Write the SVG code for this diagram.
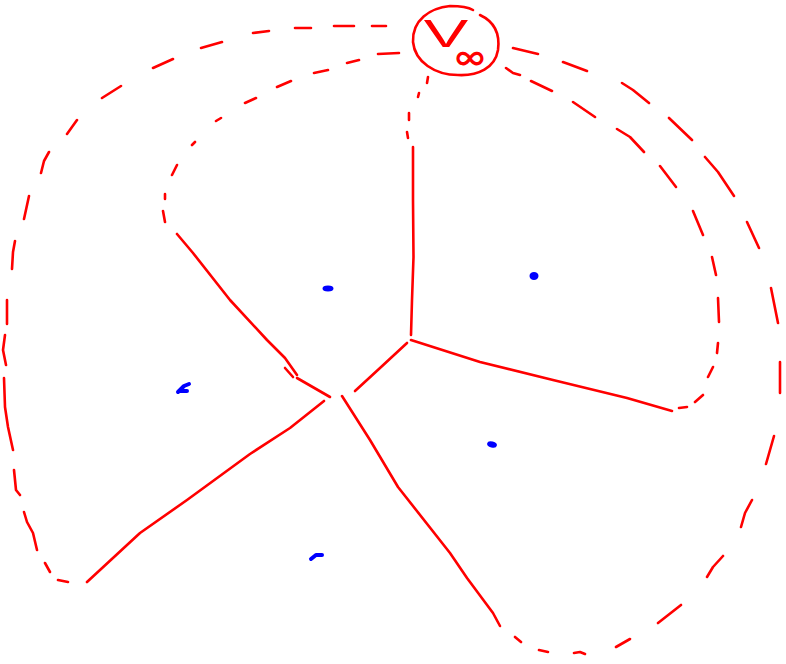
<svg xmlns="http://www.w3.org/2000/svg" width="786" height="664" viewBox="0 0 786 664">
<style>
.e{fill:none;stroke:#ff0000;stroke-width:2.6;stroke-linecap:round;stroke-linejoin:round}
.d{fill:none;stroke:#ff0000;stroke-width:2.6;stroke-linecap:round;stroke-linejoin:round}
.lbl{fill:#ff0000;font-family:"Inter","Open Sans","Liberation Sans",sans-serif}
.p{fill:#0000ff;stroke:#0000ff;stroke-width:2;stroke-linecap:round}
.h{fill:none;stroke:#0000ff;stroke-width:4;stroke-linecap:round;stroke-linejoin:round}
</style>
<rect width="786" height="664" fill="#ffffff"/>
<g id="v_inf">
<path class="e" d="M480 15 C495 22 500 35 498 50 C495 68 478 76 458 75 C435 75 415 62 413 42 C412 20 430 8 450 6 C460 6 468 7 473 10"/>
<text class="lbl" x="421" y="47" font-size="50" font-weight="300" textLength="50" lengthAdjust="spacingAndGlyphs">v</text>
<text class="lbl" x="455" y="69" font-size="34" font-weight="500" textLength="30" lengthAdjust="spacingAndGlyphs">∞</text>
</g>
<g id="sites">
<ellipse class="p" cx="328" cy="288.5" rx="4.5" ry="2"/>
<ellipse class="p" cx="534" cy="276" rx="3.5" ry="3"/>
<path class="h" d="M178 392 L184 386 L189 384 M180 391 L187 391"/>
<ellipse class="p" cx="492" cy="444.5" rx="4" ry="2" transform="rotate(15 492 444.5)"/>
<path class="h" d="M311 559 L316 555 L322 555"/>
</g>
<g id="connectors">
<path class="e" d="M413 147 L413 200 L413.5 257 L412 300 L411 335"/>
<path class="e" d="M411 340 L480 362 L553 380 L627 398 L672 411"/>
<path class="e" d="M407 343 L380 368 L355 391"/>
<path class="e" d="M177 234 L193 253 L230 300 L267 340 L285 358 L297 375"/>
<path class="e" d="M285 368 L293 377"/>
<path class="e" d="M297 378 L330 397"/>
<path class="e" d="M324 401 L290 428 L250 454 L187 500 L140 533 L87 582"/>
<path class="e" d="M342 396 L370 440 L398 487 L450 553 L467 578 L493 613 L500 626"/>
<path class="d" d="M372 26 L386 26 M334 26 L354 26 M295 28 L311 28 M253 33 L269 31 M201 48 L222 42 M153 68 L173 59 M102 98 L121 86 M67 134 L77 120 M41 173 L44 161 L49 152 M24 219 L29 196 M12 269 L13 252 L15 241 M7 300 L7 324 M5 335 L3 350 L6 365 M4 378 L5 407 L8 427 L13 450 M14 470 L16 490 L20 495 M24 512 L27 522 L33 533 L37 550 M45 563 L50 572 M58 580 L68 582"/>
<path class="d" d="M513 48 L538 54 M563 62 L587 71 M622 83 L633 90 L649 103 M669 118 L692 140 M705 157 L718 172 L734 196 M747 222 L759 248 M771 288 L778 323 M780 362 L780 393 M774 436 L766 464 M752 500 L745 513 L741 527 M723 556 L713 567 L707 577 M681 605 L658 623 M630 639 L616 647 M574 653 L580 652 L585 654 M539 650 L548 652 M515 637 L521 642"/>
<path class="d" d="M506 68 L513 73 L520 75 M531 81 L552 91 M573 102 L595 117 M617 129 L630 137 L644 152 M660 166 L676 187 M693 211 L703 235 M712 257 L716 275 M718 298 L719 322 M718 343 L717 353 M713 367 L708 377 M703 395 L695 402 M687 407 L679 408"/>
<path class="d" d="M378 54 L399 53 M347 63 L359 60 M314 73 L328 70 M277 87 L291 81 M245 103 L256 98 M216 121 L221 118 M192 145 L195 142 M172 175 L177 165 M165 199 L165 194 M163 211 L165 222"/>
<path class="d" d="M428 77 L427 83 M419 93 L418 97 M409 113 L409 120 M407 132 L408 138"/>
</g>
</svg>
